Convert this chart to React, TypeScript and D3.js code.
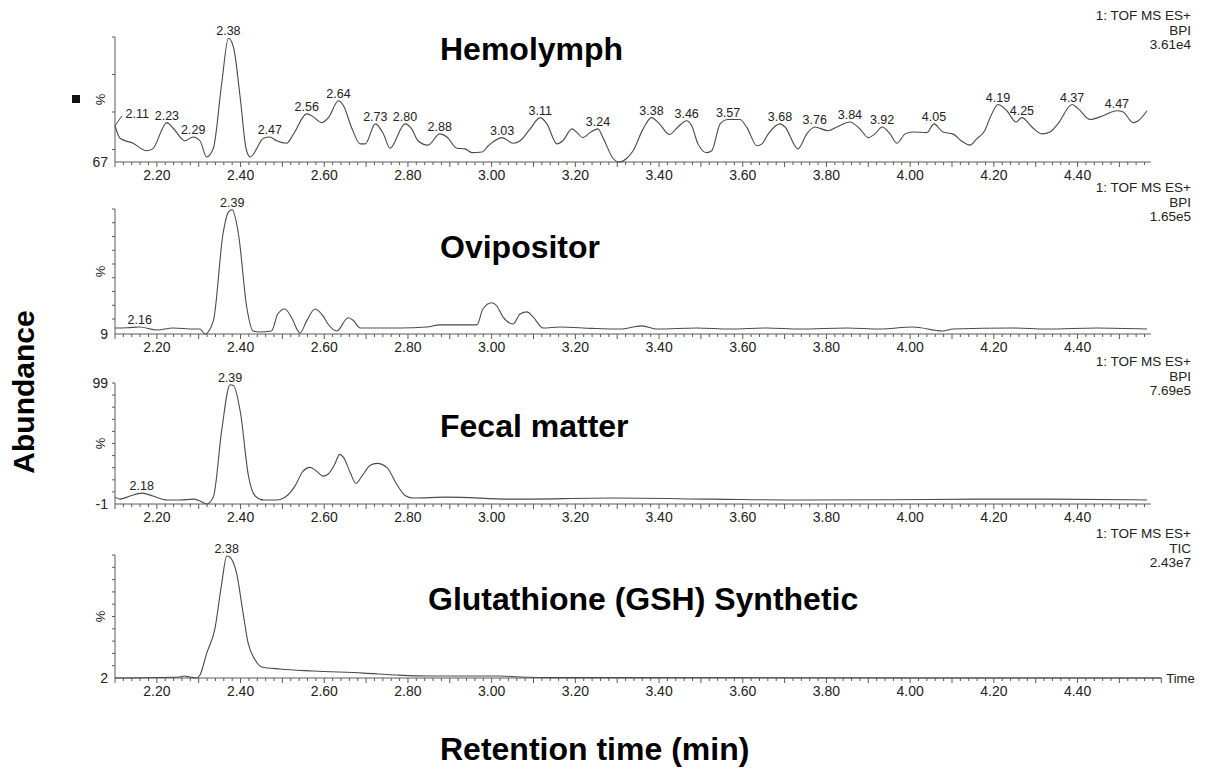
import React from 'react';
import * as d3 from 'd3';

type Pt = [number, number];

// ---------- DATA ----------
const timeTickLabels = [2.2, 2.4, 2.6, 2.8, 3.0, 3.2, 3.4, 3.6, 3.8, 4.0, 4.2, 4.4];

// [retention time (min), relative abundance %]
const hemolymph: Pt[] = [
  [2.100, 29], [2.112, 19], [2.143, 15], [2.176, 9], [2.190, 10.5], [2.224, 31.5], [2.239, 27],
  [2.267, 17], [2.287, 20], [2.303, 17], [2.319, 4], [2.335, 11], [2.355, 63], [2.371, 99],
  [2.383, 92], [2.400, 49], [2.413, 11], [2.423, 4], [2.455, 19], [2.470, 20], [2.486, 17],
  [2.510, 15], [2.526, 22], [2.558, 38.5], [2.570, 37], [2.594, 31.5], [2.610, 35.5], [2.634, 49],
  [2.646, 45], [2.666, 27], [2.686, 14.5], [2.698, 14.5], [2.722, 30.5], [2.742, 22], [2.757, 11],
  [2.793, 30.5], [2.809, 26.5], [2.824, 17], [2.848, 13.5], [2.876, 22.5], [2.893, 20], [2.917, 11],
  [2.936, 10.5], [2.953, 7.5], [2.977, 8], [2.992, 13], [3.025, 19.5], [3.051, 15], [3.068, 17],
  [3.092, 26.5], [3.116, 35.5], [3.132, 30.5], [3.156, 14.5], [3.170, 17], [3.192, 26.5], [3.204, 23.5],
  [3.218, 19.5], [3.235, 23.5], [3.254, 26.5], [3.266, 19.5], [3.290, 3], [3.304, 0], [3.323, 3],
  [3.338, 9], [3.362, 26.5], [3.382, 35.5], [3.401, 30.5], [3.425, 22], [3.445, 28], [3.466, 33],
  [3.478, 29], [3.493, 14.5], [3.514, 7.5], [3.526, 9], [3.546, 30.5], [3.565, 34], [3.593, 34],
  [3.610, 27.5], [3.634, 13], [3.646, 14.5], [3.661, 22.5], [3.689, 30.5], [3.701, 28], [3.732, 10.5],
  [3.753, 22.5], [3.772, 28], [3.804, 25], [3.825, 28], [3.856, 32], [3.880, 26.5], [3.900, 19.5],
  [3.916, 22.5], [3.933, 28], [3.952, 22.5], [3.968, 15], [3.988, 22.5], [4.006, 24], [4.040, 23.5],
  [4.057, 30.5], [4.078, 24], [4.102, 22.5], [4.122, 17], [4.143, 13.5], [4.159, 18.5], [4.178, 25],
  [4.193, 37], [4.210, 46], [4.231, 41], [4.253, 32], [4.267, 35.5], [4.291, 28], [4.315, 22.5],
  [4.334, 24], [4.353, 30.5], [4.387, 46], [4.402, 42.5], [4.430, 34], [4.461, 37], [4.494, 41],
  [4.509, 40], [4.533, 31.5], [4.545, 33], [4.566, 41],
];

const ovipositor: Pt[] = [
  [2.100, 4.8], [2.130, 5], [2.159, 5.6], [2.200, 3.2], [2.239, 4.8], [2.287, 4], [2.303, 4],
  [2.315, 0], [2.335, 10.5], [2.358, 80], [2.371, 97.5], [2.380, 99.5], [2.395, 80], [2.415, 21],
  [2.430, 2.4], [2.446, 1.6], [2.474, 2.4], [2.489, 16], [2.506, 20], [2.522, 13], [2.542, 0.8],
  [2.558, 10.5], [2.578, 20], [2.597, 14.5], [2.609, 8], [2.630, 2.4], [2.657, 13], [2.669, 11],
  [2.686, 4.8], [2.733, 4.8], [2.781, 4.8], [2.845, 5.6], [2.876, 7.3], [2.907, 7.3], [2.965, 7.3],
  [2.979, 20], [3.000, 25], [3.012, 22.6], [3.027, 13.7], [3.051, 8], [3.068, 16], [3.084, 17.7],
  [3.099, 13.7], [3.123, 4.8], [3.163, 5.6], [3.240, 4.5], [3.306, 4], [3.359, 6.5], [3.395, 4],
  [3.490, 4.8], [3.569, 4], [3.658, 4.8], [3.736, 4], [3.849, 4.8], [3.928, 4], [4.006, 5.6],
  [4.078, 2.4], [4.102, 4], [4.245, 4.8], [4.327, 4], [4.446, 4.8], [4.566, 4],
];

const fecalMatter: Pt[] = [
  [2.100, 5.7], [2.112, 4], [2.136, 6.6], [2.164, 9], [2.191, 6.6], [2.224, 3.3], [2.255, 3.3],
  [2.287, 4], [2.303, 2.5], [2.319, 0], [2.335, 5.7], [2.355, 61], [2.375, 98.5], [2.383, 98],
  [2.400, 75], [2.419, 23], [2.435, 6.6], [2.455, 3.3], [2.486, 3.3], [2.510, 6.6], [2.530, 14.8],
  [2.549, 27], [2.566, 30.3], [2.582, 27], [2.597, 23], [2.609, 24.6], [2.625, 32.8], [2.637, 41],
  [2.646, 38.5], [2.662, 26], [2.676, 17], [2.690, 23], [2.710, 32], [2.726, 33.6], [2.750, 30],
  [2.772, 17], [2.793, 7], [2.812, 4.9], [2.893, 5.7], [3.051, 4], [3.290, 4.9], [3.529, 4],
  [3.736, 3.3], [3.950, 3.5], [4.166, 4], [4.327, 4], [4.566, 3.3],
];

const gshSynthetic: Pt[] = [
  [2.100, 0], [2.255, 0.8], [2.265, 1.6], [2.279, 0.8], [2.295, 0], [2.303, 2.4], [2.319, 20],
  [2.339, 40.6], [2.355, 77], [2.367, 99.2], [2.374, 98.4], [2.390, 86], [2.406, 53], [2.418, 28.5],
  [2.435, 14.6], [2.451, 9], [2.494, 7.3], [2.573, 5.7], [2.693, 4], [2.774, 2.4], [2.853, 1.6],
  [2.972, 1.6], [3.020, 1.6], [3.068, 0.8], [3.150, 0.3], [4.600, 0],
];

const hemolymphPeaks = ["2.11", "2.23", "2.29", "2.38", "2.47", "2.56", "2.64", "2.73", "2.80", "2.88",
  "3.03", "3.11", "3.24", "3.38", "3.46", "3.57", "3.68", "3.76", "3.84", "3.92", "4.05", "4.19",
  "4.25", "4.37", "4.47"];
const ovipositorPeaks = ["2.16", "2.39"];
const fecalPeaks = ["2.18", "2.39"];
const gshPeaks = ["2.38"];

const panelTitles = ["Hemolymph", "Ovipositor", "Fecal matter", "Glutathione (GSH) Synthetic"];
const headerLines = [
  ["1: TOF MS ES+", "BPI", "3.61e4"],
  ["1: TOF MS ES+", "BPI", "1.65e5"],
  ["1: TOF MS ES+", "BPI", "7.69e5"],
  ["1: TOF MS ES+", "TIC", "2.43e7"],
];
const yMinLabels = ["67", "9", "-1", "2"];
const yMaxLabels = ["", "", "99", ""];
const yTickPcts = [
  [100, 70, 40, 10],
  [100, 89, 78, 67, 56, 45, 34, 23, 12],
  [100, 90, 80, 70, 60, 50, 40, 30, 20, 10],
  [100, 90, 80, 70, 60, 50, 40, 30, 20, 10],
];
const seriesList = [hemolymph, ovipositor, fecalMatter, gshSynthetic];
const peakList = [hemolymphPeaks, ovipositorPeaks, fecalPeaks, gshPeaks];

// ---------- LAYOUT ----------
const W = 1211, H = 782;
const plotLeft = 115;
const pxPerMin = 418.5;
const layout = [
  { top: 37, bottom: 162, titleX: 440, titleY: 60 },
  { top: 209, bottom: 334, titleX: 440, titleY: 258 },
  { top: 383, bottom: 504, titleX: 440, titleY: 437 },
  { top: 555, bottom: 678, titleX: 428, titleY: 610 },
];
const FONT = "'Liberation Sans', Arial, Helvetica, sans-serif";
const LINE = "#4a4a4a";
const AXIS = "#5a5a5a";
const TXT = "#222";

const xScale = d3.scaleLinear().domain([2.1, 4.575]).range([plotLeft, plotLeft + 2.475 * pxPerMin]);
const xScaleLast = d3.scaleLinear().domain([2.1, 4.6]).range([plotLeft, plotLeft + 2.5 * pxPerMin]);

function localMaxIdx(data: Pt[]): number[] {
  const out: number[] = [];
  for (let i = 0; i < data.length; i++) {
    const prev = i > 0 ? data[i - 1][1] : -Infinity;
    const next = i < data.length - 1 ? data[i + 1][1] : -Infinity;
    if (data[i][1] >= prev && data[i][1] >= next) out.push(i);
  }
  return out;
}

function findPeak(data: Pt[], v: number): Pt {
  const idx = localMaxIdx(data);
  let best = idx[0];
  for (const i of idx) if (Math.abs(data[i][0] - v) < Math.abs(data[best][0] - v)) best = i;
  return data[best];
}

const Panel: React.FC<{ i: number }> = ({ i }) => {
  const L = layout[i];
  const data = seriesList[i];
  const isLast = i === 3;
  const xs = isLast ? xScaleLast : xScale;
  const y = d3.scaleLinear().domain([0, 100]).range([L.bottom, L.top]);
  const line = d3.line<Pt>().x(d => xs(d[0])).y(d => y(d[1])).curve(d3.curveMonotoneX);
  const [x0, x1] = xs.range();
  const lastTick = isLast ? 230 : 228;
  const ticks = d3.range(105, lastTick + 1);
  const peakFs = 12.5;
  const labelEls = peakList[i].map((lab, k) => {
    const v = parseFloat(lab);
    const p = findPeak(data, v);
    const px = xs(p[0]);
    const py = y(p[1]);
    const w = lab.length * 0.556 * peakFs - 0.278 * peakFs;
    let lx = px;
    let ly = py - 3;
    let leader = false;
    if (lx - w / 2 < x0 + 2) {
      lx = x0 + 2 + w / 2 + 8;
      ly = py - 8;
      leader = true;
    }
    return (
      <g key={k}>
        {leader && <line x1={px} y1={py} x2={lx - w / 2 - 3} y2={ly - 2} stroke={LINE} strokeWidth={1} />}
        <text x={lx} y={ly} textAnchor="middle" fontSize={peakFs} fill={TXT} fontFamily={FONT}>{lab}</text>
      </g>
    );
  });
  return (
    <g>
      {/* y axis */}
      <line x1={x0} y1={L.top} x2={x0} y2={L.bottom} stroke={AXIS} strokeWidth={1} />
      {yTickPcts[i].map((t, k) => (
        <line key={k} x1={x0 - 3} x2={x0} y1={y(t)} y2={y(t)} stroke={AXIS} strokeWidth={1} />
      ))}
      <text x={108} y={L.bottom + 5} textAnchor="end" fontSize={14} fill={TXT} fontFamily={FONT}>{yMinLabels[i]}</text>
      {yMaxLabels[i] && (
        <text x={108} y={L.top + 5} textAnchor="end" fontSize={14} fill={TXT} fontFamily={FONT}>{yMaxLabels[i]}</text>
      )}
      <text transform={`translate(105,${(L.top + L.bottom) / 2}) rotate(-90)`} textAnchor="middle"
        fontSize={13} fill={TXT} fontFamily={FONT}>%</text>
      {/* x axis */}
      <line x1={x0} y1={L.bottom} x2={isLast ? xs(4.6) : x1} y2={L.bottom} stroke={AXIS} strokeWidth={1} />
      {ticks.map(k => (
        <line key={k} x1={xs(k / 50)} x2={xs(k / 50)} y1={L.bottom} y2={L.bottom + (k % 5 === 0 ? 5 : 3)}
          stroke={AXIS} strokeWidth={1} />
      ))}
      {timeTickLabels.map((t, k) => (
        <text key={k} x={xs(t)} y={L.bottom + 18} textAnchor="middle" fontSize={14} fill={TXT} fontFamily={FONT}>
          {t.toFixed(2)}
        </text>
      ))}
      {isLast && (
        <text x={xs(4.6) + 5} y={L.bottom + 5} fontSize={13} fill={TXT} fontFamily={FONT}>Time</text>
      )}
      {/* trace */}
      <path d={line(data) || ''} fill="none" stroke={LINE} strokeWidth={1.1} />
      {labelEls}
      {/* header */}
      {headerLines[i].map((s, k) => (
        <text key={k} x={1191} y={L.top - 17 + k * 14.5} textAnchor="end" fontSize={13.5} fill={TXT} fontFamily={FONT}>{s}</text>
      ))}
      {/* title */}
      <text x={L.titleX} y={L.titleY} fontSize={32} fontWeight="bold" fill="#000" fontFamily={FONT}>{panelTitles[i]}</text>
      {i === 0 && <rect x={72} y={95} width={8} height={8} fill="#111" />}
    </g>
  );
};

export default function App() {
  return (
    <svg width={W} height={H} viewBox={`0 0 ${W} ${H}`}
      style={{ position: 'absolute', left: 0, top: 0, background: '#fff' }}>
      <rect x={0} y={0} width={W} height={H} fill="#fff" />
      {layout.map((_, i) => <Panel key={i} i={i} />)}
      <text transform="translate(34,392) rotate(-90)" textAnchor="middle" fontSize={30} fontWeight="bold"
        fill="#000" fontFamily={FONT}>Abundance</text>
      <text x={440} y={760} fontSize={32} fontWeight="bold" fill="#000" fontFamily={FONT}>Retention time (min)</text>
    </svg>
  );
}
